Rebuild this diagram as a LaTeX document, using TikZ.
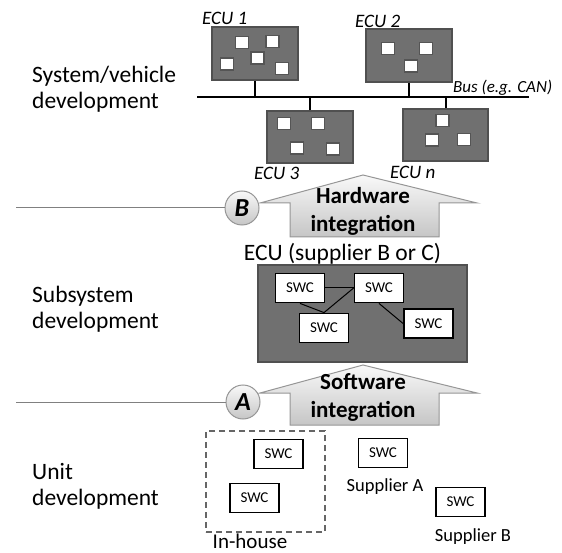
\documentclass[tikz,border=0pt]{standalone}
\usepackage{fontspec}
\setmainfont{Carlito}
\definecolor{ecufill}{RGB}{112,112,112}
\definecolor{eculine}{RGB}{80,80,80}
\definecolor{cellline}{RGB}{85,85,85}
\definecolor{arrowline}{RGB}{150,150,150}
\tikzset{
	ecu/.style={draw=eculine, fill=ecufill, line width=1.2pt, inner sep=0pt},
	cell/.style={draw=cellline, fill=white, line width=1.5pt, minimum width=13pt, minimum height=12pt, inner sep=0pt},
	swc/.style={draw=black, fill=white, line width=1.8pt, minimum width=49pt, minimum height=29pt, inner sep=0pt, font=\fontsize{15}{17}\selectfont},
	ecuname/.style={anchor=west, inner sep=0pt, font=\fontsize{19}{21}\selectfont\itshape},
	layer/.style={anchor=west, align=left, inner sep=0pt, font=\fontsize{23.5}{26}\selectfont},
	steplabel/.style={circle, draw=arrowline, line width=1pt, minimum size=34pt, inner sep=0pt, top color=gray!5, bottom color=gray!45, font=\fontsize{26}{28}\selectfont\bfseries\itshape},
	bigarrow/.style={draw=arrowline, line width=1pt, top color=gray!5, bottom color=gray!45},
	arrowtext/.style={align=center, inner sep=0pt, font=\fontsize{23}{28}\selectfont\bfseries}
}
\begin{document}
\begin{tikzpicture}[x=1pt, y=-1pt]
	\useasboundingbox (0,0) rectangle (562,553);
	
	% level labels
	\node[layer] (sysL) at (32, 89.5) {System/vehicle\\development};
	\node[layer] (subL) at (32, 309) {Subsystem\\development};
	\node[layer] (unitL) at (32, 486.5) {Unit\\development};
	
	% ECUs on the bus
	\coordinate (busL) at (197, 97);
	\coordinate (busR) at (529, 97);
	\draw[line width=2pt] (busL) -- (busR);
	\node[ecuname, font=\fontsize{17}{19}\selectfont\itshape] (busname) at (453, 88) {Bus (e.g. CAN)};
	
	\node[ecu, minimum width=86pt, minimum height=53pt] (ecu1) at (255, 53.5) {};
	\node[ecu, minimum width=86pt, minimum height=53pt] (ecu2) at (409, 55.5) {};
	\node[ecu, minimum width=86pt, minimum height=52pt] (ecu3) at (310, 137) {};
	\node[ecu, minimum width=85pt, minimum height=52pt] (ecun) at (445.5, 135) {};
	
	\draw[line width=2pt] (ecu1.south) -- (ecu1.south |- busL);
	\draw[line width=2pt] (ecu2.south) -- (ecu2.south |- busL);
	\draw[line width=2pt] (ecu3.north) -- (ecu3.north |- busL);
	\draw[line width=2pt] (ecun.north) -- (ecun.north |- busL);
	
	\foreach \cx/\cy in {242/42.5, 272.5/41.5, 257.5/58, 227/64, 282/68.5,
		388/48.5, 426/48.5, 411/66,
		284/123.5, 318/123.5, 297/148, 333/149,
		442.5/120.5, 432/140, 464/139.5}
		\node[cell] at (\cx, \cy) {};
	
	\node[ecuname] (ecu1name) at (202, 18) {ECU 1};
	\node[ecuname] (ecu2name) at (355, 21) {ECU 2};
	\node[ecuname] (ecu3name) at (254, 173) {ECU 3};
	\node[ecuname] (ecunname) at (390, 172) {ECU n};
	
	% hardware integration
	\draw[bigarrow] (290,237) -- (290,203) -- (260,203) -- (363,175) -- (477,203) -- (439,203) -- (439,237) -- cycle;
	\node[arrowtext] (hwtext) at (363, 211) {Hardware\\integration};
	\node[steplabel] (stepB) at (242, 208) {B};
	\draw[gray, line width=1pt] (16, 208) -- (stepB.west);
	
	% subsystem ECU
	\node[font=\fontsize{23.5}{26}\selectfont, inner sep=0pt] (ecuname) at (342.5, 254) {ECU (supplier B or C)};
	\node[ecu, minimum width=209pt, minimum height=97pt] (ecubig) at (362.5, 313.5) {};
	\node[swc] (swc1) at (300, 288) {SWC};
	\node[swc] (swc2) at (379, 288) {SWC};
	\node[swc] (swc3) at (324, 328) {SWC};
	\node[swc] (swc4) at (428.5, 323.5) {SWC};
	\draw[line width=1pt] (swc1.east) -- (swc2.west);
	\draw[line width=1pt] (swc1.south) -- (swc3.north);
	\draw[line width=1pt] (swc3.north) -- (swc2.west);
	\draw[line width=1pt] (swc2.south) -- (swc4.west);
	
	% software integration
	\draw[bigarrow] (290,425) -- (290,393) -- (260,393) -- (363,365) -- (477,393) -- (439,393) -- (439,425) -- cycle;
	\node[arrowtext] (swtext) at (363, 397) {Software\\integration};
	\node[steplabel] (stepA) at (243, 402) {A};
	\draw[gray, line width=1pt] (16, 402) -- (stepA.west);
	
	% units
	\node[draw=gray!80!black, line width=1.8pt, dash pattern=on 6pt off 4pt, minimum width=119pt, minimum height=101pt] (inhouse) at (265.5, 481.5) {};
	\node[swc] (unit1) at (278.5, 454) {SWC};
	\node[swc] (unit2) at (254.5, 498) {SWC};
	\node[swc] (unitA) at (383, 453) {SWC};
	\node[swc] (unitB) at (460.5, 502) {SWC};
	\node[font=\fontsize{18.5}{20}\selectfont, inner sep=0pt] (supA) at (385, 487) {Supplier A};
	\node[font=\fontsize{18.5}{20}\selectfont, inner sep=0pt] (supB) at (473, 537) {Supplier B};
	\node[font=\fontsize{21}{23}\selectfont, inner sep=0pt] (inname) at (250, 541) {In-house};
\end{tikzpicture}
\end{document}
